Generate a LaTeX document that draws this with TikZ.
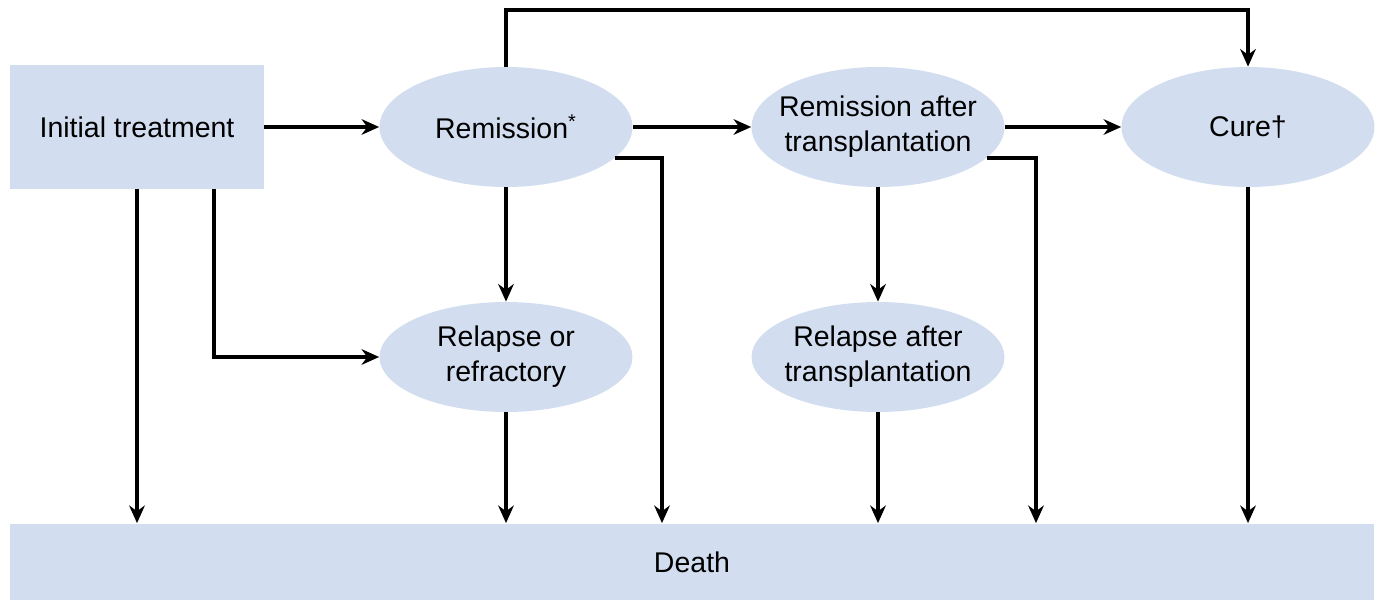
\documentclass[tikz,border=0pt]{standalone}
\usepackage{fontspec}
\setmainfont{Liberation Sans}
\usetikzlibrary{shapes.geometric,arrows.meta}
\definecolor{stateblue}{RGB}{210,222,240}

\begin{document}
\begin{tikzpicture}[x=0.018cm,y=-0.018cm,font=\fontsize{14.6}{18}\selectfont,
  arr/.style={-{Stealth[length=9pt,width=8pt]},line width=1.8pt},
  state/.style={ellipse,fill=stateblue,inner sep=0pt,minimum width=4.554cm,minimum height=2.16cm},
  stage/.style={rectangle,fill=stateblue,inner sep=0pt},
  every label/.style={align=center}]
\useasboundingbox (0,0) rectangle (1384,605);
\node[stage,minimum width=4.572cm,minimum height=2.232cm] (init) at (137,127) {Initial treatment};
\node[state,label={center:Remission\textsuperscript{*}}] (rem) at (506,127) {};
\node[state,label={center:{Remission after\\transplantation}}] (rat) at (878,127) {};
\node[state,label={center:Cure†}] (cure) at (1248,127) {};
\node[state,minimum height=1.98cm,label={center:{Relapse or\\refractory}}] (rel) at (506,357) {};
\node[state,minimum height=1.98cm,label={center:{Relapse after\\transplantation}}] (relt) at (878,357) {};
\node[stage,minimum width=24.552cm,minimum height=1.386cm] (dth) at (692,562) {Death};
\coordinate (top) at (0,10);
\coordinate (c0) at (214,0);
\coordinate (c1) at (662,0);
\coordinate (c2) at (1036,0);
\draw[arr] (init) -- (rem);
\draw[arr] (rem) -- (rat);
\draw[arr] (rat) -- (cure);
\draw[arr] (rem.north) -- (rem.north |- top) -| (cure.north);
\draw[arr] (init.south) -- (init.south |- dth.north);
\draw[arr] (init.south -| c0) |- (rel.west);
\draw[arr] (rem) -- (rel);
\draw[arr] (rem.-16) -| (dth.north -| c1);
\draw[arr] (rel) -- (rel |- dth.north);
\draw[arr] (rat) -- (relt);
\draw[arr] (rat.-16) -| (dth.north -| c2);
\draw[arr] (relt) -- (relt |- dth.north);
\draw[arr] (cure) -- (cure |- dth.north);
\end{tikzpicture}
\end{document}
